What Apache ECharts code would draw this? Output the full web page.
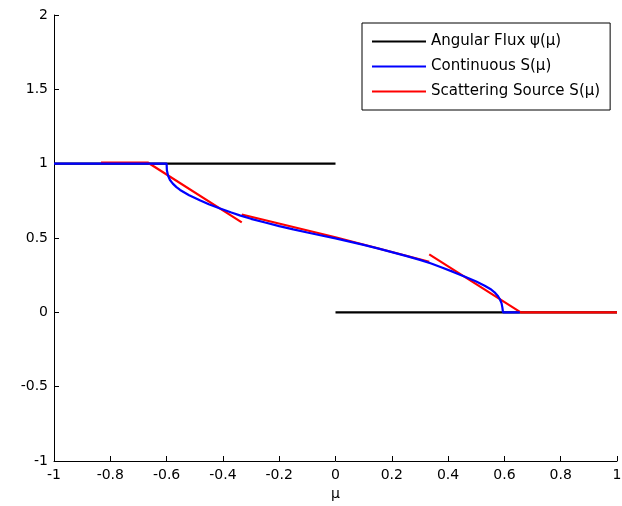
<!DOCTYPE html>
<html>
<head>
<meta charset="utf-8">
<script src="https://cdn.jsdelivr.net/npm/echarts@6/dist/echarts.min.js"></script>
<style>
  html, body { margin: 0; padding: 0; background: #fff; }
  #chart { width: 622px; height: 506px; }
</style>
</head>
<body>
<div id="chart"></div>
<script>
// Angular flux: 1 for mu < 0, 0 for mu > 0 (null splits the two pieces)
const fluxMu  = [-1, 0, 0, 0, 1];
const fluxVal = [1, 1, null, 0, 0];

// Continuous scattering source S(mu)
const contMu  = [-1, -0.6, -0.599, -0.595, -0.588, -0.578, -0.565, -0.552, -0.52, -0.48, -0.45,
                 -0.41, -0.37, -0.34, -0.3, -0.25, -0.2, -0.15, -0.1, -0.05, 0,
                 0.05, 0.1, 0.15, 0.2, 0.25, 0.3, 0.34, 0.38, 0.418, 0.46, 0.5, 0.53,
                 0.55, 0.565, 0.576, 0.584, 0.59, 0.593, 0.595, 0.655];
const contVal = [1, 1, 0.955, 0.92, 0.89, 0.866, 0.842, 0.823, 0.788, 0.752, 0.727,
                 0.698, 0.671, 0.652, 0.629, 0.604, 0.58, 0.558, 0.537, 0.517, 0.497,
                 0.476, 0.454, 0.43, 0.405, 0.38, 0.353, 0.328, 0.3, 0.272, 0.24, 0.207, 0.179,
                 0.157, 0.135, 0.112, 0.088, 0.06, 0.03, 0, 0];

// Piecewise-linear scattering source (null marks a break between elements)
const srcMu  = [-0.833, -0.667, -0.333, -0.333, -0.333, 0, 0.333, 0.333, 0.333, 0.658, 1];
const srcVal = [1.008, 1.008, 0.605, null, 0.658, 0.505, 0.34, null, 0.39, 0, 0];

// Axis ticks
const xMin = -1, xMax = 1, xStep = 0.2;
const yMin = -1, yMax = 2, yStep = 0.5;

const seriesNames = ['Angular Flux \u03C8(\u03BC)', 'Continuous S(\u03BC)', 'Scattering Source S(\u03BC)'];

function pairs(xs, ys) {
  return xs.map((x, i) => [x, ys[i] === null ? '-' : ys[i]]);
}

const FONT = '"DejaVu Sans", sans-serif';

const chart = echarts.init(document.getElementById('chart'), null, { renderer: 'canvas' });
chart.setOption({
  animation: false,
  backgroundColor: '#ffffff',
  grid: { left: 54, right: 5, top: 15, bottom: 45, containLabel: false, outerBoundsMode: 'none' },
  legend: {
    data: seriesNames,
    orient: 'vertical',
    left: 362,
    top: 23,
    padding: [11, 10, 11, 10],
    itemGap: 10,
    itemWidth: 54,
    itemHeight: 2,
    icon: 'rect',
    backgroundColor: '#ffffff',
    borderColor: '#000000',
    borderWidth: 1,
    borderRadius: 0,
    selectedMode: false,
    textStyle: { color: '#000', fontFamily: FONT, fontSize: 15, lineHeight: 15 }
  },
  xAxis: {
    type: 'value',
    min: xMin, max: xMax, interval: xStep,
    name: '\u03BC',
    nameLocation: 'middle',
    nameGap: 25,
    nameTextStyle: { color: '#000', fontFamily: FONT, fontSize: 14 },
    axisLine: { show: true, onZero: false, lineStyle: { color: '#000', width: 1 } },
    axisTick: { show: true, inside: true, length: 5, lineStyle: { color: '#000' } },
    axisLabel: { color: '#000', fontFamily: FONT, fontSize: 14, margin: 7 },
    splitLine: { show: false }
  },
  yAxis: {
    type: 'value',
    min: yMin, max: yMax, interval: yStep,
    axisLine: { show: true, onZero: false, lineStyle: { color: '#000', width: 1 } },
    axisTick: { show: true, inside: true, length: 5, lineStyle: { color: '#000' } },
    axisLabel: { color: '#000', fontFamily: FONT, fontSize: 14, margin: 6 },
    splitLine: { show: false }
  },
  series: [
    {
      name: seriesNames[0], type: 'line', data: pairs(fluxMu, fluxVal),
      symbol: 'none', connectNulls: false, z: 2,
      lineStyle: { color: '#000000', width: 2.2 }, itemStyle: { color: '#000000' }
    },
    {
      name: seriesNames[2], type: 'line', data: pairs(srcMu, srcVal),
      symbol: 'none', connectNulls: false, z: 3,
      lineStyle: { color: '#ff0000', width: 2.2 }, itemStyle: { color: '#ff0000' }
    },
    {
      name: seriesNames[1], type: 'line', data: pairs(contMu, contVal),
      symbol: 'none', connectNulls: false, z: 4,
      lineStyle: { color: '#0000ff', width: 2.2 }, itemStyle: { color: '#0000ff' }
    }
  ]
});
</script>
</body>
</html>
